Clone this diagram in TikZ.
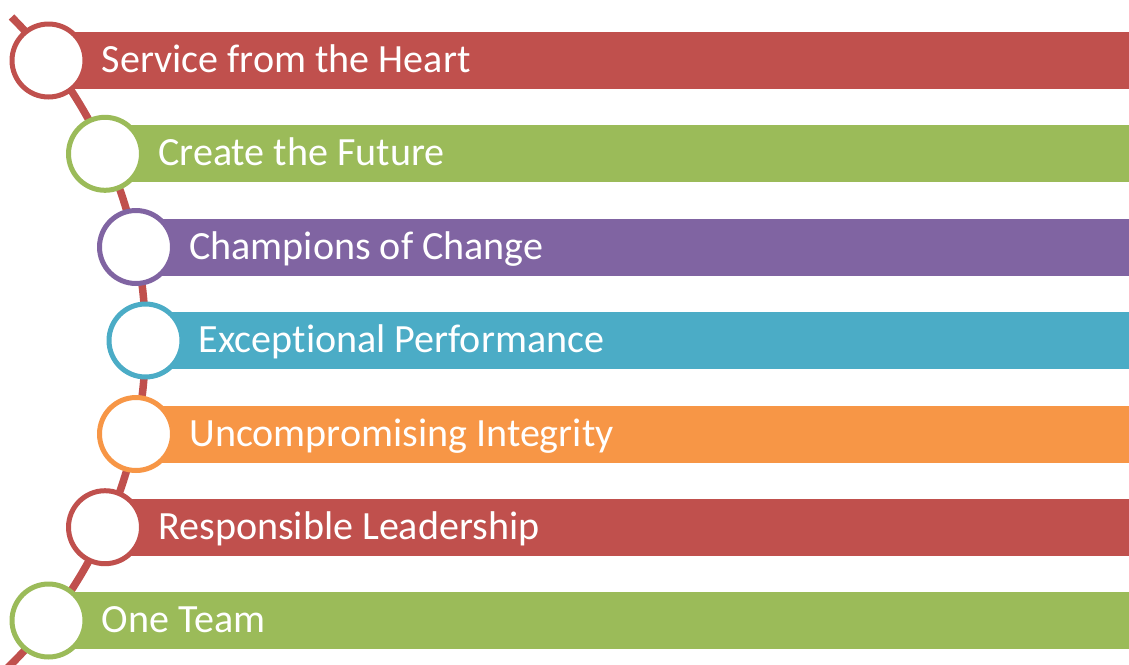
\documentclass[tikz,border=0pt]{standalone}
\usepackage{fontspec}
\setmainfont{Carlito}[Ligatures=NoCommon]
\usetikzlibrary{positioning}
\definecolor{valred}{HTML}{C0504D}
\definecolor{valgreen}{HTML}{9BBB59}
\definecolor{valpurple}{HTML}{8064A2}
\definecolor{valteal}{HTML}{4BACC6}
\definecolor{valorange}{HTML}{F79646}

\begin{document}
\begin{tikzpicture}[
    x=0.02cm, y=-0.02cm,
    valbar/.style={rectangle, inner sep=0pt, minimum height=1.14cm, anchor=west},
    valtext/.style={text=white, inner sep=0pt, anchor=base west,
                    font=\fontsize{22.8}{27}\selectfont},
    ring/.style={circle, draw, line width=0.1cm, fill=white,
                 inner sep=0pt, minimum size=1.46cm},
]
\useasboundingbox (0,0) rectangle (1129,664);
\clip (0,0) rectangle (1129,664);
% the spine running behind the rings
\draw[valred, line width=0.15cm]
    (-312,340.5) ++(-45:457.5) arc[start angle=-45, end angle=47, radius=457.5];
\foreach \cx/\cy/\col/\txt [count=\i] in {
    48.5/60.5/valred/Service from the Heart,
    105/153.8/valgreen/Create the Future,
    136/247/valpurple/Champions of Change,
    145.5/340.5/valteal/Exceptional Performance,
    136/434/valorange/Uncompromising Integrity,
    105/527.2/valred/Responsible Leadership,
    48.5/620.5/valgreen/One Team} {
  \node[valbar, fill=\col, minimum width={(1129-\cx)*0.02cm}] (bar\i) at (\cx,\cy) {};
  \node[valtext] (label\i) at (\cx+53,\cy+12) {\txt};
  \node[ring, draw=\col] (ring\i) at (\cx,\cy) {};
}
\end{tikzpicture}
\end{document}
